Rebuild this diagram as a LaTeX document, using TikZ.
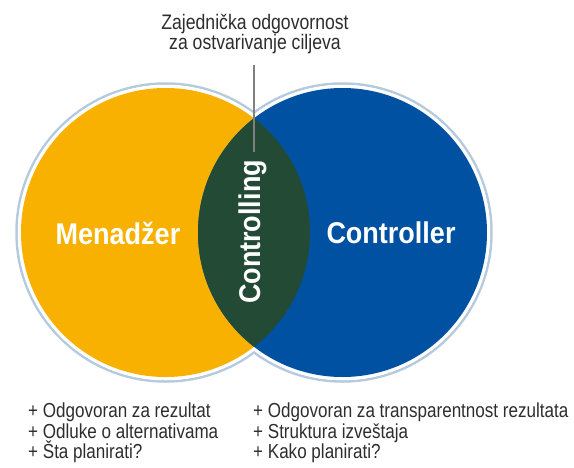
\documentclass[tikz,border=0pt]{standalone}
\usepackage{fontspec}
\setmainfont{Liberation Sans}[FakeStretch=0.9]
\newfontfamily\notefont{Liberation Sans}[FakeStretch=0.84]
\usepackage{xcolor}
\usepackage{tikz}
\usetikzlibrary{positioning}
\definecolor{MgrYellow}{RGB}{248,177,0}
\definecolor{CtrlBlue}{RGB}{0,81,162}
\definecolor{LensGreen}{RGB}{34,74,53}
\definecolor{HaloBlue}{RGB}{182,202,222}
\definecolor{NoteGray}{RGB}{45,45,45}
\tikzset{
    setcircle/.style={circle, minimum size=289pt, inner sep=0pt},
    bigtitle/.style={text=white, font=\bfseries\fontsize{30}{32}\selectfont, inner sep=0pt},
    notetext/.style={text=NoteGray, font=\notefont\fontsize{20.3}{20.5}\selectfont, align=left, inner sep=0pt, anchor=north west}
}

\begin{document}
\begin{tikzpicture}[x=1pt, y=-1pt,
                halo/.style={draw=HaloBlue, line width=2.5pt},
                leader/.style={draw=gray, line width=1.3pt}
            ]
                \useasboundingbox (0,0) rectangle (574,467);
                % rubovi oko skupova
                \draw[halo] (165.5,232.5) circle[radius=149pt];
                \draw[halo] (342.5,232.5) circle[radius=149pt];
                \fill[white] (165.5,232.5) circle[radius=147.7pt];
                \fill[white] (342.5,232.5) circle[radius=147.7pt];
                % dva skupa
                \node[setcircle, fill=MgrYellow] (menadzer) at (165.5,232.5) {};
                \node[setcircle, fill=CtrlBlue] (controller) at (342.5,232.5) {};
                % presek
                \begin{scope}
                    \clip (menadzer.center) circle[radius=144.5pt];
                    \fill[LensGreen] (controller.center) circle[radius=144.5pt];
                \end{scope}
                \node[bigtitle] (mlabel) at (118,233) {Menadžer};
                \node[bigtitle] (clabel) at (391,233) {Controller};
                \node[bigtitle, rotate=90] (lenslabel) at (253,232) {Controlling};
                % zajednicka odgovornost
                \node[text=NoteGray, font=\notefont\fontsize{21}{20}\selectfont, align=center, inner sep=0pt] (goal) at (255,34) {Zajednička odgovornost\\za ostvarivanje ciljeva};
                \coordinate (goalfoot) at (254,65);
                \coordinate (lenstop) at (254,152);
                \draw[leader] (goalfoot) -- (lenstop);
                % zadaci
                \node[notetext] (mtasks) at (28,403) {+ Odgovoran za rezultat\\+ Odluke o alternativama\\+ Šta planirati?};
                \node[notetext] (ctasks) at (253,403) {+ Odgovoran za transparentnost rezultata\\+ Struktura izveštaja\\+ Kako planirati?};
            \end{tikzpicture}
\end{document}
